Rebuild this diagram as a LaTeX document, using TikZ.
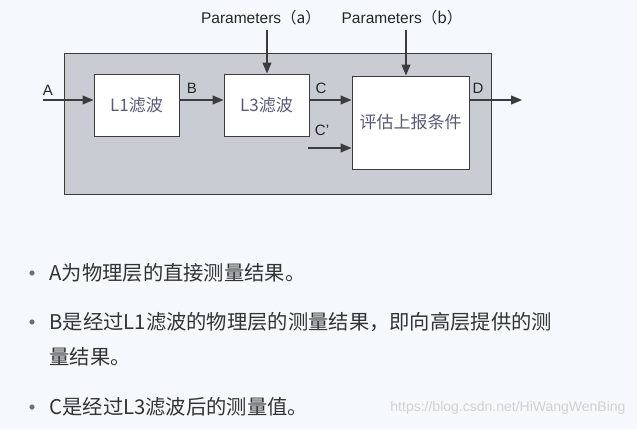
\documentclass[tikz,border=0pt]{standalone}
\usepackage{fontspec}
\usepackage{xcolor}
\usetikzlibrary{arrows.meta}
\setmainfont{Liberation Sans}
\newfontfamily\cjk{Noto Sans CJK SC}
\definecolor{pagebg}{HTML}{F5F8FC}
\definecolor{panelgray}{HTML}{C9CDD3}
\definecolor{linegray}{HTML}{3C3C3C}
\definecolor{boxtext}{HTML}{5A5A78}
\definecolor{dotgray}{HTML}{6A6F80}
\tikzset{
  panel/.style={draw=linegray, line width=1pt, fill=panelgray, minimum width=427pt, minimum height=141pt},
  filterbox/.style={draw=linegray, line width=1pt, fill=white, minimum width=85pt, minimum height=62pt, font=\cjk\fontsize{17}{20}\selectfont, text=boxtext},
  sig/.style={-{Triangle[length=11pt,width=9pt]}, draw=linegray, line width=1.1pt},
  siglabel/.style={font=\fontsize{15}{17}\selectfont, text=black!85},
  param/.style={font=\fontsize{15.5}{17}\selectfont, text=black!85},
  bullettext/.style={anchor=west, align=left, font=\cjk\fontsize{20.3}{35}\selectfont, text=black!80}
}

\begin{document}
\begin{tikzpicture}[x=1pt,y=-1pt]
  \fill[pagebg] (0,0) rectangle (637,429);
  \useasboundingbox (0,0) rectangle (637,429);

  \node[panel] (panel) at (277.5,123.5) {};
  \node[filterbox] (l1) at (136.5,105) {L1滤波};
  \node[filterbox] (l3) at (266.5,105) {L3滤波};
  \node[filterbox, minimum width=117pt, minimum height=93pt] (eval) at (410.5,122.5) {评估上报条件};

  \coordinate (ain) at (43,100);
  \coordinate (cpin) at (308,148);
  \coordinate (dout) at (522,100);
  \coordinate (pain) at (267,30);
  \coordinate (pbin) at (406,30);

  \draw[sig] (ain) -- (ain -| l1.west);
  \draw[sig] (ain -| l1.east) -- (ain -| l3.west);
  \draw[sig] (ain -| l3.east) -- (ain -| eval.west);
  \draw[sig] (cpin) -- (cpin -| eval.west);
  \draw[sig] (ain -| eval.east) -- (dout);
  \draw[sig] (pain) -- (pain |- l3.north);
  \draw[sig] (pbin) -- (pbin |- eval.north);

  \node[siglabel] (la) at (48,90) {A};
  \node[siglabel] (lb) at (192,88) {B};
  \node[siglabel] (lc) at (321,88) {C};
  \node[siglabel] (lcp) at (322,130) {C’};
  \node[siglabel] (ld) at (478,88) {D};
  \node[param] (pa) at (261,18) {Parameters{\cjk（a）}};
  \node[param] (pb) at (402,18) {Parameters{\cjk（b）}};

  % bullet list
  \foreach \y in {273,322,407}
    \fill[dotgray] (32,\y) circle (2.6pt);
  \node[bullettext] (t1) at (46,273) {A为物理层的直接测量结果。};
  \node[bullettext] (t2) at (46,339.5) {B是经过L1滤波的物理层的测量结果，即向高层提供的测\\量结果。};
  \node[bullettext] (t3) at (46,407) {C是经过L3滤波后的测量值。};

  \node[anchor=east, font=\fontsize{14}{16}\selectfont, text=black!18] (wm) at (629,408) {https://blog.csdn.net/HiWangWenBing};
\end{tikzpicture}
\end{document}
